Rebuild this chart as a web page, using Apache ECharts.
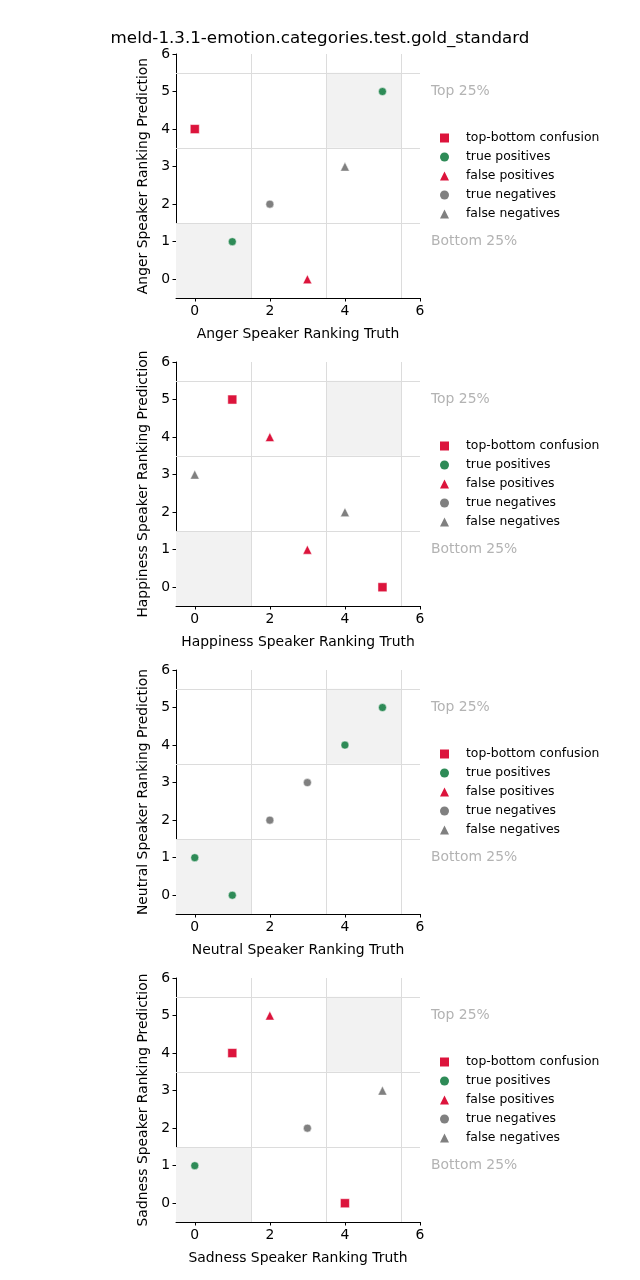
<!DOCTYPE html>
<html>
<head>
<meta charset="utf-8">
<script src="https://cdn.jsdelivr.net/npm/echarts@6/dist/echarts.min.js"></script>
<style>html,body{margin:0;padding:0;background:#fff}#c{width:640px;height:1280px}</style>
</head>
<body>
<div id="c"></div>
<script>
const title = 'meld-1.3.1-emotion.categories.test.gold_standard';
const emotions = ['Anger', 'Happiness', 'Neutral', 'Sadness'];
const categories = ['top-bottom confusion', 'true positives', 'false positives', 'true negatives', 'false negatives'];
const xTickValues = [0, 2, 4, 6];
const yTickValues = [0, 1, 2, 3, 4, 5, 6];
const bandLines = [1.5, 3.5, 5.5];
const axisMin = -0.5;
const axisMax = 6;

// [truth, prediction] points per emotion, per category
const angerConfusion = [[0, 4]];
const angerTruePos = [[5, 5], [1, 1]];
const angerFalsePos = [[3, 0]];
const angerTrueNeg = [[2, 2]];
const angerFalseNeg = [[4, 3]];

const happinessConfusion = [[1, 5], [5, 0]];
const happinessTruePos = [];
const happinessFalsePos = [[2, 4], [3, 1]];
const happinessTrueNeg = [];
const happinessFalseNeg = [[0, 3], [4, 2]];

const neutralConfusion = [];
const neutralTruePos = [[5, 5], [4, 4], [0, 1], [1, 0]];
const neutralFalsePos = [];
const neutralTrueNeg = [[2, 2], [3, 3]];
const neutralFalseNeg = [];

const sadnessConfusion = [[1, 4], [4, 0]];
const sadnessTruePos = [[0, 1]];
const sadnessFalsePos = [[2, 5]];
const sadnessTrueNeg = [[3, 2]];
const sadnessFalseNeg = [[5, 3]];

const panelData = [
  [angerConfusion, angerTruePos, angerFalsePos, angerTrueNeg, angerFalseNeg],
  [happinessConfusion, happinessTruePos, happinessFalsePos, happinessTrueNeg, happinessFalseNeg],
  [neutralConfusion, neutralTruePos, neutralFalsePos, neutralTrueNeg, neutralFalseNeg],
  [sadnessConfusion, sadnessTruePos, sadnessFalsePos, sadnessTrueNeg, sadnessFalseNeg]
];

const RED = '#dc143c', GREEN = '#2e8b57', GRAY = '#808080';
const catStyle = [
  {symbol: 'rect', color: RED, size: 9},
  {symbol: 'circle', color: GREEN, size: 8},
  {symbol: 'triangle', color: RED, size: 9},
  {symbol: 'circle', color: GRAY, size: 8},
  {symbol: 'triangle', color: GRAY, size: 9}
];

const FONT = 'DejaVu Sans';
const gridLeft = 176, gridW = 244, gridH = 244, gridTop0 = 54, gridStep = 308;

const grids = [], xAxes = [], yAxes = [], series = [], legends = [];
function axisBase(i, ticks) {
  return {
    type: 'value', min: axisMin, max: axisMax, gridIndex: i,
    axisLine: {show: true, onZero: false, lineStyle: {color: '#000', width: 1}},
    axisTick: {show: true, length: 3.5, customValues: ticks, lineStyle: {color: '#000'}},
    axisLabel: {customValues: ticks, color: '#000', fontSize: 13.9, fontFamily: FONT, margin: 6},
    splitLine: {show: false},
    nameLocation: 'middle',
    nameTextStyle: {color: '#000', fontSize: 13.9, fontFamily: FONT}
  };
}
emotions.forEach((emo, i) => {
  grids.push({left: gridLeft, top: gridTop0 + gridStep * i, width: gridW, height: gridH});
  xAxes.push(Object.assign(axisBase(i, xTickValues), {name: emo + ' Speaker Ranking Truth', nameGap: 29}));
  yAxes.push(Object.assign(axisBase(i, yTickValues), {name: emo + ' Speaker Ranking Prediction', nameGap: 26}));

  // background bands and reference lines
  series.push({
    type: 'scatter', xAxisIndex: i, yAxisIndex: i, data: [], silent: true, z: 1,
    markArea: {
      silent: true,
      itemStyle: {color: '#f2f2f2'},
      data: [
        [{coord: [axisMin, axisMin]}, {coord: [bandLines[0], bandLines[0]]}],
        [{coord: [bandLines[1], bandLines[1]]}, {coord: [bandLines[2], bandLines[2]]}]
      ]
    },
    markLine: {
      silent: true, symbol: 'none', animation: false,
      lineStyle: {color: '#dcdcdc', width: 1, type: 'solid'},
      label: {show: false},
      data: bandLines.map(v => ({xAxis: v})).concat(bandLines.map(v => ({yAxis: v})))
    }
  });

  categories.forEach((cat, k) => {
    const st = catStyle[k];
    series.push({
      type: 'scatter', name: cat, xAxisIndex: i, yAxisIndex: i, z: 3,
      symbol: st.symbol, symbolSize: st.size,
      itemStyle: {color: st.color, opacity: 1, borderColor: '#fff', borderWidth: 0.5},
      data: panelData[i][k]
    });
  });

  legends.push({
    left: 440, top: 132 + gridStep * i, orient: 'vertical', padding: 0,
    itemWidth: 9, itemHeight: 9, itemGap: 7, selectedMode: false,
    textStyle: {fontSize: 12.4, fontFamily: FONT, color: '#000', lineHeight: 12, padding: [0, 0, 0, 12]},
    data: categories.map((c, k) => ({name: c, icon: catStyle[k].symbol,
      itemStyle: {color: catStyle[k].color, opacity: 1, borderWidth: 0}}))
  });
});

const chart = echarts.init(document.getElementById('c'), null, {renderer: 'canvas'});
chart.setOption({
  animation: false,
  backgroundColor: '#fff',
  title: {text: title, left: 'center', top: 25, textStyle: {fontSize: 16.7, fontWeight: 'normal', fontFamily: FONT, color: '#000'}},
  grid: grids, xAxis: xAxes, yAxis: yAxes, legend: legends, series: series
});

// "Top 25%" / "Bottom 25%" annotations placed via axis scales
const graphics = [];
emotions.forEach((emo, i) => {
  const pTop = chart.convertToPixel({gridIndex: i}, [axisMax, 5]);
  const pBot = chart.convertToPixel({gridIndex: i}, [axisMax, 1]);
  [['Top 25%', pTop], ['Bottom 25%', pBot]].forEach(([t, p]) => {
    graphics.push({type: 'text', x: p[0] + 11, y: p[1], style: {text: t, fill: '#b3b3b3', fontSize: 13.9, fontFamily: FONT, verticalAlign: 'middle'}});
  });
});
chart.setOption({graphic: graphics});
</script>
</body>
</html>
